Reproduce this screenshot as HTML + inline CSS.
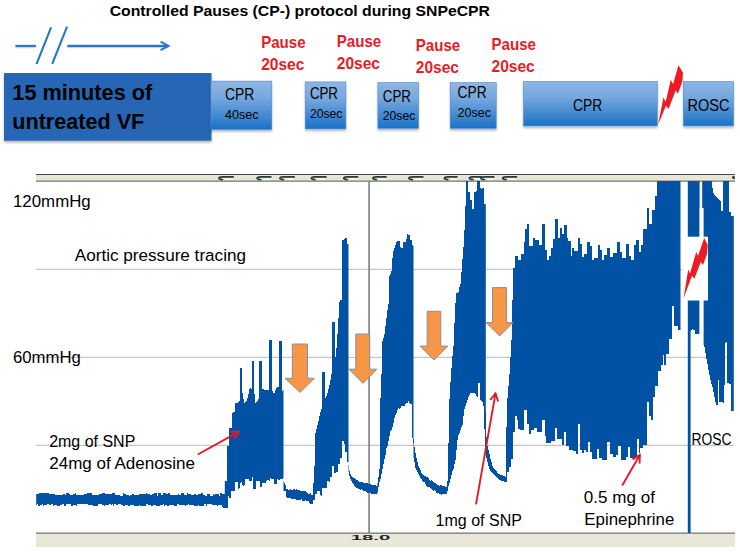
<!DOCTYPE html>
<html><head><meta charset="utf-8"><title>Controlled Pauses protocol</title>
<style>html,body{margin:0;padding:0;background:#fff}svg{display:block}</style></head>
<body>
<svg width="740" height="552" viewBox="0 0 740 552" font-family="'Liberation Sans', sans-serif">
<defs>
<linearGradient id="g" x1="0" y1="0" x2="0" y2="1"><stop offset="0" stop-color="#8fb6e4"/><stop offset="0.35" stop-color="#76a7de"/><stop offset="1" stop-color="#1a72c7"/></linearGradient>
<filter id="sh" x="-10%" y="-10%" width="120%" height="140%"><feGaussianBlur in="SourceAlpha" stdDeviation="1.2"/><feOffset dx="0" dy="2"/><feComponentTransfer><feFuncA type="linear" slope="0.28"/></feComponentTransfer><feMerge><feMergeNode/><feMergeNode in="SourceGraphic"/></feMerge></filter>
</defs>
<rect width="740" height="552" fill="#fff"/>
<rect x="36" y="174" width="699" height="7.5" fill="#e6e6d4"/><rect x="36" y="174" width="699" height="1" fill="#4a4a48"/><rect x="36" y="180.5" width="699" height="1.3" fill="#7d7f80"/>
<rect x="36" y="533" width="699" height="14" fill="#e9e7d8"/><rect x="36" y="532.6" width="699" height="1" fill="#555"/>
<rect x="36" y="268.8" width="698" height="1" fill="#b9b9b9"/>
<rect x="36" y="356.8" width="698" height="1" fill="#b9b9b9"/>
<rect x="36" y="444.8" width="698" height="1" fill="#b9b9b9"/>
<ellipse cx="229.0" cy="179.2" rx="4.0" ry="0.9" fill="#f7f7f3"/><path d="M233.2 176.9 H222.5 q-3.4 0 -3.6 1.3 q0.3 1.1 3.4 1.4" fill="none" stroke="#2b3a38" stroke-width="1.7" stroke-linecap="round"/>
<ellipse cx="266.9" cy="179.2" rx="3.9" ry="0.9" fill="#f7f7f3"/><path d="M270.8 176.9 H260.7 q-3.4 0 -3.6 1.3 q0.3 1.1 3.4 1.4" fill="none" stroke="#2b3a38" stroke-width="1.7" stroke-linecap="round"/>
<ellipse cx="290.0" cy="179.2" rx="4.0" ry="0.9" fill="#f7f7f3"/><path d="M294.2 176.9 H283.5 q-3.4 0 -3.6 1.3 q0.3 1.1 3.4 1.4" fill="none" stroke="#2b3a38" stroke-width="1.7" stroke-linecap="round"/>
<ellipse cx="321.6" cy="179.2" rx="4.0" ry="0.9" fill="#f7f7f3"/><path d="M325.9 176.9 H315.0 q-3.4 0 -3.6 1.3 q0.3 1.1 3.4 1.4" fill="none" stroke="#2b3a38" stroke-width="1.7" stroke-linecap="round"/>
<ellipse cx="353.6" cy="179.2" rx="3.9" ry="0.9" fill="#f7f7f3"/><path d="M357.6 176.9 H347.3 q-3.4 0 -3.6 1.3 q0.3 1.1 3.4 1.4" fill="none" stroke="#2b3a38" stroke-width="1.7" stroke-linecap="round"/>
<ellipse cx="382.4" cy="179.2" rx="3.7" ry="0.9" fill="#f7f7f3"/><path d="M386.0 176.9 H376.5 q-3.4 0 -3.6 1.3 q0.3 1.1 3.4 1.4" fill="none" stroke="#2b3a38" stroke-width="1.7" stroke-linecap="round"/>
<ellipse cx="418.8" cy="179.2" rx="3.9" ry="0.9" fill="#f7f7f3"/><path d="M422.8 176.9 H412.5 q-3.4 0 -3.6 1.3 q0.3 1.1 3.4 1.4" fill="none" stroke="#2b3a38" stroke-width="1.7" stroke-linecap="round"/>
<ellipse cx="453.6" cy="179.2" rx="3.5" ry="0.9" fill="#f7f7f3"/><path d="M456.9 176.9 H448.0 q-3.4 0 -3.6 1.3 q0.3 1.1 3.4 1.4" fill="none" stroke="#2b3a38" stroke-width="1.7" stroke-linecap="round"/>
<ellipse cx="478.2" cy="179.2" rx="3.4" ry="0.9" fill="#f7f7f3"/><path d="M481.2 176.9 H473.0 q-3.4 0 -3.6 1.3 q0.3 1.1 3.4 1.4" fill="none" stroke="#2b3a38" stroke-width="1.7" stroke-linecap="round"/>
<ellipse cx="490.3" cy="179.2" rx="3.7" ry="0.9" fill="#f7f7f3"/><path d="M493.8 176.9 H484.5 q-3.4 0 -3.6 1.3 q0.3 1.1 3.4 1.4" fill="none" stroke="#2b3a38" stroke-width="1.7" stroke-linecap="round"/>
<ellipse cx="512.5" cy="179.2" rx="3.9" ry="0.9" fill="#f7f7f3"/><path d="M516.5 176.9 H506.2 q-3.4 0 -3.6 1.3 q0.3 1.1 3.4 1.4" fill="none" stroke="#2b3a38" stroke-width="1.7" stroke-linecap="round"/>
<rect x="732.3" y="176.2" width="2.4" height="2.6" fill="#222"/>
<rect x="368.2" y="181.5" width="1.8" height="352" fill="#868c94"/>
<path d="M36.2 505.0V494.0H37.0V494.0H38.0V494.0H39.0V493.0H40.0V493.0H41.0V493.0H42.0V493.0H43.0V493.0H44.0V493.0H45.0V493.0H46.0V493.0H47.0V493.0H48.0V493.0H49.0V494.0H50.0V494.0H51.0V494.0H52.0V494.0H53.0V494.0H54.0V494.0H55.0V495.0H56.0V495.0H57.0V495.0H58.0V495.0H59.0V495.0H60.0V495.0H61.0V495.0H62.0V495.0H63.0V494.0H64.0V494.0H65.0V495.0H66.0V493.0H67.0V493.0H68.0V493.0H69.0V494.0H70.0V495.0H71.0V495.0H72.0V495.0H73.0V494.0H74.0V494.0H75.0V493.0H76.0V495.0H77.0V495.0H78.0V495.0H79.0V495.0H80.0V495.0H81.0V495.0H82.0V495.0H83.0V495.0H84.0V494.0H85.0V494.0H86.0V494.0H87.0V493.0H88.0V493.0H89.0V493.0H90.0V493.0H91.0V493.0H92.0V495.0H93.0V495.0H94.0V495.0H95.0V495.0H96.0V495.0H97.0V495.0H98.0V495.0H99.0V494.0H100.0V494.0H101.0V494.0H102.0V493.0H103.0V493.0H104.0V493.0H105.0V494.0H106.0V494.0H107.0V494.0H108.0V494.0H109.0V494.0H110.0V494.0H111.0V494.0H112.0V493.0H113.0V493.0H114.0V493.0H115.0V495.0H116.0V495.0H117.0V495.0H118.0V495.0H119.0V495.0H120.0V496.0H121.0V496.0H122.0V496.0H123.0V493.0H124.0V494.0H125.0V494.0H126.0V495.0H127.0V495.0H128.0V495.0H129.0V496.0H130.0V495.0H131.0V495.0H132.0V494.0H133.0V494.0H134.0V495.0H135.0V495.0H136.0V495.0H137.0V495.0H138.0V495.0H139.0V494.0H140.0V494.0H141.0V494.0H142.0V494.0H143.0V494.0H144.0V494.0H145.0V494.0H146.0V493.0H147.0V494.0H148.0V494.0H149.0V494.0H150.0V495.0H151.0V495.0H152.0V494.0H153.0V494.0H154.0V493.0H155.0V493.0H156.0V493.0H157.0V496.0H158.0V493.0H159.0V493.0H160.0V493.0H161.0V495.0H162.0V495.0H163.0V493.0H164.0V493.0H165.0V493.0H166.0V494.0H167.0V494.0H168.0V493.0H169.0V493.0H170.0V495.0H171.0V495.0H172.0V495.0H173.0V495.0H174.0V495.0H175.0V495.0H176.0V495.0H177.0V495.0H178.0V494.0H179.0V495.0H180.0V495.0H181.0V493.0H182.0V493.0H183.0V493.0H184.0V495.0H185.0V495.0H186.0V495.0H187.0V493.0H188.0V494.0H189.0V494.0H190.0V494.0H191.0V495.0H192.0V495.0H193.0V495.0H194.0V494.0H195.0V494.0H196.0V495.0H197.0V495.0H198.0V494.0H199.0V494.0H200.0V494.0H201.0V493.0H202.0V493.0H203.0V495.0H204.0V495.0H205.0V496.0H206.0V496.0H207.0V494.0H208.0V494.0H209.0V494.0H210.0V496.0H211.0V496.0H212.0V496.0H213.0V494.0H214.0V495.0H215.0V494.0H216.0V494.0H217.0V494.0H218.0V494.0H219.0V496.0H220.0V493.0H221.0V493.0H222.0V494.0H223.0V494.0H224.0V494.0H224.8V481.0H225.0V481.0H226.0V481.0H227.0V446.0H228.0V446.0H229.0V428.0H230.0V428.0H231.0V428.0H232.0V413.0H233.0V412.0H234.0V412.0H235.0V403.0H236.0V403.0H237.0V403.0H238.0V402.0H239.0V401.0H240.0V368.0H241.0V368.0H242.0V393.0H243.0V399.0H244.0V403.0H245.0V402.0H246.0V401.0H247.0V398.0H248.0V394.0H249.0V389.0H250.0V388.0H251.0V389.0H252.0V361.0H253.0V361.0H254.0V394.0H255.0V403.0H256.0V402.0H257.0V401.0H258.0V399.0H259.0V361.0H260.0V361.0H261.0V361.0H262.0V389.0H263.0V389.0H264.0V390.0H265.0V390.0H266.0V390.0H267.0V390.0H268.0V390.0H269.0V340.0H270.0V340.0H271.0V340.0H272.0V391.0H273.0V393.0H274.0V393.0H275.0V390.0H276.0V388.0H277.0V387.0H278.0V387.0H279.0V341.0H280.0V341.0H281.0V341.0H282.0V391.0H283.0V390.0H283.5V481.0H284.0V483.0H285.0V485.0H286.0V489.0H287.0V489.0H288.0V490.0H289.0V490.0H290.0V489.0H291.0V490.0H292.0V490.0H293.0V489.0H294.0V489.0H295.0V490.0H296.0V489.0H297.0V490.0H298.0V490.0H299.0V490.0H300.0V491.0H301.0V491.0H302.0V491.0H303.0V491.0H304.0V491.0H305.0V491.0H306.0V492.0H307.0V493.0H308.0V494.0H309.0V494.0H310.0V493.0H311.0V495.0H312.0V495.0H313.0V483.0H314.0V466.0H315.0V433.0H316.0V429.0H317.0V425.0H318.0V421.0H319.0V416.0H320.0V412.0H321.0V409.0H322.0V372.0H323.0V372.0H324.0V372.0H325.0V398.0H326.0V396.0H327.0V393.0H328.0V389.0H329.0V385.0H330.0V380.0H331.0V374.0H332.0V322.0H333.0V322.0H334.0V322.0H335.0V357.0H336.0V348.0H337.0V334.0H338.0V318.0H339.0V302.0H340.0V300.0H341.0V300.0H342.0V240.0H343.0V240.0H344.0V239.0H345.0V238.0H346.0V238.0H347.0V244.0H348.0V244.0H348.5V465.0H349.0V471.0H350.0V474.0H351.0V476.0H352.0V477.0H353.0V478.0H354.0V478.0H355.0V479.0H356.0V480.0H357.0V480.0H358.0V481.0H359.0V482.0H360.0V482.0H361.0V482.0H362.0V482.0H363.0V483.0H364.0V483.0H365.0V483.0H366.0V483.0H367.0V483.0H368.0V484.0H369.0V484.0H370.0V484.0H371.0V485.0H372.0V485.0H373.0V485.0H374.0V485.0H375.0V485.0H376.0V486.0H377.0V486.0H377.4V483.0H378.0V477.0H379.0V469.0H380.0V398.0H381.0V374.0H382.0V341.0H383.0V338.0H384.0V334.0H385.0V326.0H386.0V318.0H387.0V310.0H388.0V304.0H389.0V276.0H390.0V274.0H391.0V271.0H392.0V258.0H393.0V251.0H394.0V248.0H395.0V245.0H396.0V242.0H397.0V241.0H398.0V241.0H399.0V241.0H400.0V247.0H401.0V248.0H402.0V248.0H403.0V242.0H404.0V242.0H405.0V242.0H406.0V239.0H407.0V234.0H408.0V235.0H409.0V235.0H410.0V240.0H411.0V240.0H412.0V245.0H413.0V246.0H413.5V439.0H414.0V447.0H415.0V453.0H416.0V458.0H417.0V462.0H418.0V466.0H419.0V468.0H420.0V470.0H421.0V473.0H422.0V474.0H423.0V475.0H424.0V476.0H425.0V476.0H426.0V477.0H427.0V477.0H428.0V478.0H429.0V480.0H430.0V481.0H431.0V480.0H432.0V481.0H433.0V482.0H434.0V483.0H435.0V483.0H436.0V484.0H437.0V485.0H438.0V485.0H439.0V486.0H440.0V485.0H441.0V485.0H442.0V486.0H443.0V486.0H444.0V486.0H445.0V487.0H446.0V487.0H446.8V485.0H447.0V481.0H448.0V443.0H449.0V399.0H450.0V382.0H451.0V368.0H452.0V356.0H453.0V346.0H454.0V323.0H455.0V303.0H456.0V293.0H457.0V293.0H458.0V292.0H459.0V287.0H460.0V284.0H461.0V272.0H462.0V259.0H463.0V247.0H464.0V230.0H465.0V206.0H466.0V181.0H467.0V181.0H468.0V192.0H469.0V192.0H470.0V200.0H471.0V200.0H472.0V209.0H473.0V209.0H474.0V192.0H475.0V192.0H476.0V191.0H477.0V181.0H478.0V181.0H479.0V181.0H480.0V188.0H481.0V189.0H482.0V188.0H483.0V188.0H484.0V204.0H485.0V204.0H485.8V412.0H486.0V437.0H487.0V446.0H488.0V450.0H489.0V454.0H490.0V459.0H491.0V462.0H492.0V466.0H493.0V468.0H494.0V469.0H495.0V470.0H496.0V471.0H497.0V473.0H498.0V474.0H499.0V474.0H500.0V475.0H501.0V475.0H502.0V475.0H503.0V476.0H504.0V476.0H505.0V477.0H506.0V427.0H507.0V398.0H508.0V386.0H509.0V374.0H510.0V357.0H511.0V340.0H512.0V300.0H513.0V268.0H514.0V268.0H515.0V256.0H516.0V256.0H517.0V256.0H518.0V260.0H519.0V260.0H520.0V260.0H521.0V254.0H522.0V254.0H523.0V254.0H524.0V242.0H525.0V229.0H526.0V229.0H527.0V224.0H528.0V224.0H529.0V246.0H530.0V246.0H531.0V246.0H532.0V246.0H533.0V238.0H534.0V238.0H535.0V240.0H536.0V240.0H537.0V240.0H538.0V240.0H539.0V245.0H540.0V245.0H541.0V245.0H542.0V224.0H543.0V224.0H544.0V224.0H545.0V250.0H546.0V250.0H547.0V260.0H548.0V260.0H549.0V256.0H550.0V256.0H551.0V248.0H552.0V248.0H553.0V239.0H554.0V239.0H555.0V219.0H556.0V219.0H557.0V219.0H558.0V238.0H559.0V238.0H560.0V228.0H561.0V228.0H562.0V234.0H563.0V234.0H564.0V225.0H565.0V225.0H566.0V225.0H567.0V238.0H568.0V241.0H569.0V241.0H570.0V241.0H571.0V256.0H572.0V248.0H573.0V248.0H574.0V251.0H575.0V251.0H576.0V251.0H577.0V251.0H578.0V238.0H579.0V238.0H580.0V244.0H581.0V244.0H582.0V257.0H583.0V257.0H584.0V254.0H585.0V254.0H586.0V254.0H587.0V242.0H588.0V242.0H589.0V242.0H590.0V246.0H591.0V246.0H592.0V260.0H593.0V260.0H594.0V258.0H595.0V258.0H596.0V258.0H597.0V258.0H598.0V245.0H599.0V245.0H600.0V250.0H601.0V250.0H602.0V260.0H603.0V260.0H604.0V255.0H605.0V255.0H606.0V255.0H607.0V248.0H608.0V248.0H609.0V248.0H610.0V257.0H611.0V257.0H612.0V257.0H613.0V253.0H614.0V253.0H615.0V253.0H616.0V253.0H617.0V242.0H618.0V242.0H619.0V242.0H620.0V252.0H621.0V252.0H622.0V258.0H623.0V258.0H624.0V258.0H625.0V258.0H626.0V244.0H627.0V244.0H628.0V244.0H629.0V256.0H630.0V256.0H631.0V260.0H632.0V260.0H633.0V260.0H634.0V245.0H635.0V245.0H636.0V240.0H637.0V240.0H638.0V240.0H639.0V252.0H640.0V252.0H641.0V245.0H642.0V245.0H643.0V229.0H644.0V229.0H645.0V229.0H646.0V229.0H647.0V208.0H648.0V208.0H649.0V224.0H650.0V224.0H651.0V224.0H652.0V210.0H653.0V210.0H654.0V210.0H655.0V196.0H656.0V196.0H657.0V181.0H658.0V181.0H659.0V181.0H660.0V181.0H661.0V181.0H662.0V181.0H663.0V181.0H664.0V181.0H665.0V181.0H666.0V181.0H667.0V181.0H668.0V181.0H669.0V181.0H670.0V181.0H671.0V181.0H672.0V181.0H673.0V181.0H674.0V181.0H675.0V181.0H676.0V181.0H677.0V181.0H678.0V181.0H679.0V181.0H680.0V181.0H680.5V330.0H680.0V330.0H679.0V330.0H678.0V326.0H677.0V326.0H676.0V326.0H675.0V326.0H674.0V306.0H673.0V306.0H672.0V339.0H671.0V339.0H670.0V339.0H669.0V354.0H668.0V354.0H667.0V354.0H666.0V365.0H665.0V365.0H664.0V355.0H663.0V365.0H662.0V365.0H661.0V371.0H660.0V371.0H659.0V371.0H658.0V386.0H657.0V386.0H656.0V386.0H655.0V397.0H654.0V397.0H653.0V420.0H652.0V420.0H651.0V416.0H650.0V416.0H649.0V402.0H648.0V402.0H647.0V445.0H646.0V445.0H645.0V445.0H644.0V445.0H643.0V448.0H642.0V448.0H641.0V448.0H640.0V453.0H639.0V439.0H638.0V439.0H637.0V458.0H636.0V458.0H635.0V458.0H634.0V458.0H633.0V458.0H632.0V458.0H631.0V458.0H630.0V447.0H629.0V447.0H628.0V457.0H627.0V457.0H626.0V460.0H625.0V460.0H624.0V460.0H623.0V460.0H622.0V460.0H621.0V446.0H620.0V446.0H619.0V446.0H618.0V455.0H617.0V455.0H616.0V457.0H615.0V457.0H614.0V457.0H613.0V454.0H612.0V454.0H611.0V454.0H610.0V442.0H609.0V442.0H608.0V442.0H607.0V460.0H606.0V460.0H605.0V460.0H604.0V460.0H603.0V460.0H602.0V458.0H601.0V458.0H600.0V458.0H599.0V449.0H598.0V449.0H597.0V459.0H596.0V459.0H595.0V459.0H594.0V459.0H593.0V459.0H592.0V452.0H591.0V452.0H590.0V442.0H589.0V442.0H588.0V452.0H587.0V452.0H586.0V450.0H585.0V450.0H584.0V453.0H583.0V453.0H582.0V450.0H581.0V450.0H580.0V424.0H579.0V424.0H578.0V454.0H577.0V454.0H576.0V451.0H575.0V451.0H574.0V451.0H573.0V450.0H572.0V450.0H571.0V450.0H570.0V450.0H569.0V446.0H568.0V446.0H567.0V446.0H566.0V432.0H565.0V432.0H564.0V445.0H563.0V445.0H562.0V439.0H561.0V439.0H560.0V439.0H559.0V439.0H558.0V439.0H557.0V428.0H556.0V428.0H555.0V441.0H554.0V441.0H553.0V441.0H552.0V441.0H551.0V443.0H550.0V443.0H549.0V443.0H548.0V443.0H547.0V443.0H546.0V436.0H545.0V420.0H544.0V420.0H543.0V420.0H542.0V432.0H541.0V432.0H540.0V432.0H539.0V432.0H538.0V432.0H537.0V428.0H536.0V428.0H535.0V428.0H534.0V430.0H533.0V430.0H532.0V430.0H531.0V434.0H530.0V434.0H529.0V424.0H528.0V424.0H527.0V410.0H526.0V410.0H525.0V410.0H524.0V430.0H523.0V430.0H522.0V430.0H521.0V430.0H520.0V429.0H519.0V429.0H518.0V420.0H517.0V416.0H516.0V416.0H515.0V432.0H514.0V432.0H513.0V459.0H512.0V459.0H511.0V467.0H510.0V467.0H509.0V472.0H508.0V472.0H507.0V482.0H506.0V482.0H505.0V482.0H504.0V481.0H503.0V481.0H502.0V481.0H501.0V480.0H500.0V480.0H499.0V479.0H498.0V478.0H497.0V477.0H496.0V476.0H495.0V475.0H494.0V474.0H493.0V473.0H492.0V472.0H491.0V471.0H490.0V469.0H489.0V466.0H488.0V462.0H487.0V458.0H486.0V456.0H485.8V448.0H485.0V429.0H484.0V406.0H483.0V402.0H482.0V401.0H481.0V400.0H480.0V383.0H479.0V383.0H478.0V397.0H477.0V396.0H476.0V394.0H475.0V393.0H474.0V393.0H473.0V393.0H472.0V393.0H471.0V393.0H470.0V395.0H469.0V397.0H468.0V400.0H467.0V403.0H466.0V406.0H465.0V409.0H464.0V416.0H463.0V425.0H462.0V427.0H461.0V430.0H460.0V433.0H459.0V435.0H458.0V440.0H457.0V450.0H456.0V460.0H455.0V464.0H454.0V469.0H453.0V471.0H452.0V475.0H451.0V479.0H450.0V483.0H449.0V486.0H448.0V491.0H447.0V493.0H446.8V494.0H446.0V494.0H445.0V494.0H444.0V494.0H443.0V494.0H442.0V495.0H441.0V494.0H440.0V494.0H439.0V493.0H438.0V493.0H437.0V493.0H436.0V491.0H435.0V490.0H434.0V491.0H433.0V490.0H432.0V489.0H431.0V488.0H430.0V487.0H429.0V487.0H428.0V487.0H427.0V486.0H426.0V484.0H425.0V482.0H424.0V482.0H423.0V481.0H422.0V479.0H421.0V478.0H420.0V476.0H419.0V474.0H418.0V472.0H417.0V470.0H416.0V468.0H415.0V462.0H414.0V458.0H413.5V443.0H413.0V438.0H412.0V404.0H411.0V404.0H410.0V403.0H409.0V401.0H408.0V403.0H407.0V403.0H406.0V404.0H405.0V406.0H404.0V406.0H403.0V406.0H402.0V406.0H401.0V408.0H400.0V409.0H399.0V408.0H398.0V410.0H397.0V413.0H396.0V415.0H395.0V418.0H394.0V423.0H393.0V427.0H392.0V430.0H391.0V431.0H390.0V436.0H389.0V441.0H388.0V446.0H387.0V448.0H386.0V455.0H385.0V459.0H384.0V464.0H383.0V469.0H382.0V474.0H381.0V479.0H380.0V482.0H379.0V487.0H378.0V492.0H377.4V494.0H377.0V494.0H376.0V494.0H375.0V494.0H374.0V494.0H373.0V494.0H372.0V494.0H371.0V493.0H370.0V492.0H369.0V493.0H368.0V493.0H367.0V492.0H366.0V491.0H365.0V491.0H364.0V491.0H363.0V490.0H362.0V489.0H361.0V490.0H360.0V489.0H359.0V489.0H358.0V488.0H357.0V488.0H356.0V487.0H355.0V486.0H354.0V484.0H353.0V483.0H352.0V481.0H351.0V479.0H350.0V476.0H349.0V472.0H348.5V462.0H348.0V462.0H347.0V452.0H346.0V452.0H345.0V444.0H344.0V441.0H343.0V441.0H342.0V458.0H341.0V458.0H340.0V464.0H339.0V464.0H338.0V472.0H337.0V472.0H336.0V473.0H335.0V473.0H334.0V466.0H333.0V466.0H332.0V477.0H331.0V477.0H330.0V482.0H329.0V481.0H328.0V481.0H327.0V488.0H326.0V488.0H325.0V488.0H324.0V488.0H323.0V488.0H322.0V496.0H321.0V495.0H320.0V491.0H319.0V491.0H318.0V491.0H317.0V494.0H316.0V494.0H315.0V500.0H314.0V500.0H313.0V504.0H312.0V504.0H311.0V504.0H310.0V503.0H309.0V501.0H308.0V501.0H307.0V501.0H306.0V500.0H305.0V501.0H304.0V501.0H303.0V501.0H302.0V499.0H301.0V500.0H300.0V500.0H299.0V500.0H298.0V500.0H297.0V500.0H296.0V499.0H295.0V499.0H294.0V499.0H293.0V499.0H292.0V499.0H291.0V498.0H290.0V498.0H289.0V498.0H288.0V498.0H287.0V497.0H286.0V491.0H285.0V491.0H284.0V491.0H283.5V478.0H283.0V479.0H282.0V479.0H281.0V479.0H280.0V480.0H279.0V480.0H278.0V479.0H277.0V484.0H276.0V484.0H275.0V484.0H274.0V479.0H273.0V479.0H272.0V479.0H271.0V478.0H270.0V481.0H269.0V480.0H268.0V480.0H267.0V481.0H266.0V483.0H265.0V483.0H264.0V483.0H263.0V483.0H262.0V487.0H261.0V487.0H260.0V481.0H259.0V481.0H258.0V481.0H257.0V481.0H256.0V489.0H255.0V489.0H254.0V489.0H253.0V477.0H252.0V481.0H251.0V481.0H250.0V481.0H249.0V479.0H248.0V479.0H247.0V479.0H246.0V479.0H245.0V485.0H244.0V486.0H243.0V485.0H242.0V482.0H241.0V483.0H240.0V488.0H239.0V489.0H238.0V482.0H237.0V482.0H236.0V482.0H235.0V491.0H234.0V491.0H233.0V491.0H232.0V491.0H231.0V498.0H230.0V498.0H229.0V496.0H228.0V508.0H227.0V508.0H226.0V508.0H225.0V508.0H224.8V508.0H224.0V508.0H223.0V507.0H222.0V505.0H221.0V505.0H220.0V505.0H219.0V505.0H218.0V506.0H217.0V505.0H216.0V505.0H215.0V505.0H214.0V505.0H213.0V505.0H212.0V504.0H211.0V504.0H210.0V504.0H209.0V504.0H208.0V504.0H207.0V506.0H206.0V504.0H205.0V504.0H204.0V506.0H203.0V506.0H202.0V506.0H201.0V506.0H200.0V506.0H199.0V505.0H198.0V506.0H197.0V506.0H196.0V506.0H195.0V506.0H194.0V505.0H193.0V505.0H192.0V505.0H191.0V505.0H190.0V505.0H189.0V504.0H188.0V505.0H187.0V505.0H186.0V506.0H185.0V505.0H184.0V505.0H183.0V505.0H182.0V505.0H181.0V505.0H180.0V505.0H179.0V504.0H178.0V504.0H177.0V506.0H176.0V506.0H175.0V506.0H174.0V505.0H173.0V505.0H172.0V505.0H171.0V505.0H170.0V505.0H169.0V506.0H168.0V506.0H167.0V505.0H166.0V505.0H165.0V506.0H164.0V504.0H163.0V505.0H162.0V505.0H161.0V505.0H160.0V506.0H159.0V506.0H158.0V506.0H157.0V506.0H156.0V505.0H155.0V505.0H154.0V505.0H153.0V506.0H152.0V506.0H151.0V505.0H150.0V505.0H149.0V505.0H148.0V504.0H147.0V504.0H146.0V506.0H145.0V506.0H144.0V506.0H143.0V506.0H142.0V506.0H141.0V506.0H140.0V505.0H139.0V506.0H138.0V506.0H137.0V506.0H136.0V506.0H135.0V506.0H134.0V505.0H133.0V505.0H132.0V505.0H131.0V505.0H130.0V506.0H129.0V506.0H128.0V505.0H127.0V505.0H126.0V505.0H125.0V506.0H124.0V506.0H123.0V505.0H122.0V505.0H121.0V504.0H120.0V504.0H119.0V504.0H118.0V505.0H117.0V505.0H116.0V504.0H115.0V504.0H114.0V506.0H113.0V504.0H112.0V505.0H111.0V504.0H110.0V504.0H109.0V505.0H108.0V505.0H107.0V505.0H106.0V505.0H105.0V506.0H104.0V505.0H103.0V505.0H102.0V504.0H101.0V504.0H100.0V504.0H99.0V504.0H98.0V506.0H97.0V506.0H96.0V506.0H95.0V506.0H94.0V506.0H93.0V505.0H92.0V505.0H91.0V505.0H90.0V505.0H89.0V505.0H88.0V504.0H87.0V504.0H86.0V504.0H85.0V504.0H84.0V504.0H83.0V504.0H82.0V504.0H81.0V504.0H80.0V504.0H79.0V504.0H78.0V504.0H77.0V506.0H76.0V505.0H75.0V505.0H74.0V505.0H73.0V506.0H72.0V506.0H71.0V504.0H70.0V504.0H69.0V504.0H68.0V504.0H67.0V504.0H66.0V506.0H65.0V506.0H64.0V504.0H63.0V504.0H62.0V505.0H61.0V505.0H60.0V506.0H59.0V506.0H58.0V506.0H57.0V505.0H56.0V505.0H55.0V505.0H54.0V506.0H53.0V504.0H52.0V504.0H51.0V505.0H50.0V505.0H49.0V504.0H48.0V504.0H47.0V505.0H46.0V505.0H45.0V505.0H44.0V506.0H43.0V504.0H42.0V505.0H41.0V505.0H40.0V506.0H39.0V506.0H38.0V504.0H37.0V505.0H36.2ZM688.0 330.0V181.0H689.0V181.0H690.0V181.0H691.0V181.0H692.0V181.0H693.0V181.0H694.0V181.0H695.0V181.0H696.0V181.0H697.0V181.0H698.0V181.0H699.0V181.0H699.6V334.0H699.0V334.0H698.0V334.0H697.0V334.0H696.0V334.0H695.0V330.0H694.0V330.0H693.0V329.0H692.0V330.0H691.0V331.0H690.0V332.0H689.0V330.0H688.0ZM702.2 313.0V181.0H703.0V181.0H704.0V181.0H705.0V181.0H706.0V181.0H707.0V181.0H708.0V181.0H709.0V181.0H710.0V181.0H711.0V181.0H712.0V188.0H713.0V193.0H714.0V195.0H715.0V196.0H716.0V197.0H717.0V198.0H718.0V199.0H719.0V200.0H720.0V201.0H721.0V211.0H722.0V211.0H723.0V181.0H724.0V181.0H725.0V181.0H726.0V181.0H727.0V181.0H728.0V181.0H729.0V212.0H730.0V212.0H731.0V216.0H732.0V216.0H733.0V216.0H733.8V411.0H733.0V411.0H732.0V411.0H731.0V384.0H730.0V384.0H729.0V383.0H728.0V383.0H727.0V342.0H726.0V343.0H725.0V385.0H724.0V403.0H723.0V402.0H722.0V402.0H721.0V402.0H720.0V402.0H719.0V380.0H718.0V405.0H717.0V405.0H716.0V402.0H715.0V397.0H714.0V392.0H713.0V387.0H712.0V384.0H711.0V380.0H710.0V375.0H709.0V370.0H708.0V364.0H707.0V359.0H706.0V353.0H705.0V347.0H704.0V345.0H703.0V313.0H702.2Z" fill="#0152a5"/>
<rect x="687.8" y="181.5" width="2.8" height="351.5" fill="#0152a5"/>
<rect x="699.6" y="208" width="4" height="140" fill="#fff"/>
<rect x="682.6" y="236.7" width="25.4" height="63.8" fill="#fff"/>
<polygon points="704.2,238.0 707.7,245.0 706.9,254.2 703.0,265.0 700.8,262.0 694.3,278.8 692.0,275.8 683.5,298.5 688.2,269.6 690.0,273.5 696.2,252.0 698.0,255.8" fill="#ed1c24"/>
<polygon points="292.3,344.0 307.5,344.0 307.5,378.3 314.4,378.3 300.0,392.4 285.0,378.3 292.3,378.3" fill="#f79646" stroke="#8b8f9c" stroke-width="1" stroke-linejoin="miter"/>
<polygon points="355.8,334.0 369.7,334.0 369.7,369.2 377.0,369.2 363.0,383.4 348.9,369.2 355.8,369.2" fill="#f79646" stroke="#8b8f9c" stroke-width="1" stroke-linejoin="miter"/>
<polygon points="427.2,311.3 440.8,311.3 440.8,346.1 448.0,346.1 434.0,360.0 420.0,346.1 427.2,346.1" fill="#f79646" stroke="#8b8f9c" stroke-width="1" stroke-linejoin="miter"/>
<polygon points="492.5,287.6 506.6,287.6 506.6,322.6 513.0,322.6 499.7,336.0 486.0,322.6 492.5,322.6" fill="#f79646" stroke="#8b8f9c" stroke-width="1" stroke-linejoin="miter"/>
<g stroke="#e01b26" stroke-width="1.9" fill="none" stroke-linecap="butt" stroke-linejoin="miter"><line x1="197.8" y1="454.5" x2="239.0" y2="431.6"/><polyline points="234.5,438.8 239.0,431.6 230.5,431.7"/></g>
<g stroke="#e01b26" stroke-width="1.9" fill="none" stroke-linecap="butt" stroke-linejoin="miter"><line x1="476.0" y1="504.4" x2="495.5" y2="393.4"/><polyline points="498.2,401.5 495.5,393.4 490.2,400.0"/></g>
<g stroke="#e01b26" stroke-width="1.9" fill="none" stroke-linecap="butt" stroke-linejoin="miter"><line x1="622.2" y1="485.5" x2="639.8" y2="455.0"/><polyline points="639.6,463.5 639.8,455.0 632.5,459.4"/></g>
<g stroke="#b8b8b8" stroke-width="2" fill="none" opacity="0.6" transform="translate(0,1.4)"><line x1="15.4" y1="45.9" x2="35.9" y2="45.9"/><line x1="67.3" y1="45.9" x2="168" y2="45.9"/></g><g stroke="#2a76c4" stroke-width="2.1" fill="none"><line x1="15.4" y1="45.9" x2="35.9" y2="45.9"/><line x1="51.1" y1="27.4" x2="36.5" y2="64.1"/><line x1="67.1" y1="26.7" x2="52.2" y2="63.8"/><line x1="67.3" y1="45.9" x2="168" y2="45.9"/><polyline points="160.6,41.7 168.4,45.9 160.6,50.1" stroke-linejoin="miter"/></g>
<rect x="4" y="73" width="207.5" height="67.7" fill="#2566b4" filter="url(#sh)"/>
<rect x="210.9" y="81.1" width="60.9" height="48.3" fill="url(#g)" stroke="#4a8ad0" stroke-width="0.6" filter="url(#sh)"/>
<rect x="305.2" y="81.9" width="40.7" height="47.0" fill="url(#g)" stroke="#4a8ad0" stroke-width="0.6" filter="url(#sh)"/>
<rect x="377.9" y="82.6" width="40.6" height="45.7" fill="url(#g)" stroke="#4a8ad0" stroke-width="0.6" filter="url(#sh)"/>
<rect x="450.2" y="82.6" width="46.0" height="45.7" fill="url(#g)" stroke="#4a8ad0" stroke-width="0.6" filter="url(#sh)"/>
<rect x="523.5" y="81.4" width="133.8" height="44.5" fill="url(#g)" stroke="#4a8ad0" stroke-width="0.6" filter="url(#sh)"/>
<rect x="683.3" y="81.4" width="50.2" height="44.5" fill="url(#g)" stroke="#4a8ad0" stroke-width="0.6" filter="url(#sh)"/>
<polygon points="678.4,65.3 682.9,72.4 682.5,81.0 678.0,93.7 675.7,90.6 668.5,108.9 666.0,105.7 658.1,124.4 663.4,97.5 665.7,101.8 670.8,79.7 673.1,84.0" fill="#ed1c24"/>
<text x="109.7" y="15.7" font-size="14.90" font-weight="bold" fill="#000" textLength="380.3" lengthAdjust="spacingAndGlyphs">Controlled Pauses (CP-) protocol during SNPeCPR</text>
<text x="12.3" y="99.5" font-size="22.30" font-weight="bold" fill="#000" textLength="140.0" lengthAdjust="spacingAndGlyphs">15 minutes of</text>
<text x="12.3" y="129.4" font-size="22.30" font-weight="bold" fill="#000" textLength="132.0" lengthAdjust="spacingAndGlyphs">untreated VF</text>
<text x="261.2" y="48.3" font-size="16.40" font-weight="bold" fill="#e81c26" textLength="44.4" lengthAdjust="spacingAndGlyphs">Pause</text>
<text x="261.2" y="70.3" font-size="16.40" font-weight="bold" fill="#e81c26" textLength="43.2" lengthAdjust="spacingAndGlyphs">20sec</text>
<text x="336.8" y="46.8" font-size="16.40" font-weight="bold" fill="#e81c26" textLength="44.4" lengthAdjust="spacingAndGlyphs">Pause</text>
<text x="336.8" y="69.2" font-size="16.40" font-weight="bold" fill="#e81c26" textLength="43.2" lengthAdjust="spacingAndGlyphs">20sec</text>
<text x="415.8" y="51.2" font-size="16.40" font-weight="bold" fill="#e81c26" textLength="44.4" lengthAdjust="spacingAndGlyphs">Pause</text>
<text x="415.8" y="73.3" font-size="16.40" font-weight="bold" fill="#e81c26" textLength="43.2" lengthAdjust="spacingAndGlyphs">20sec</text>
<text x="491.5" y="50.1" font-size="16.40" font-weight="bold" fill="#e81c26" textLength="44.4" lengthAdjust="spacingAndGlyphs">Pause</text>
<text x="491.5" y="72.0" font-size="16.40" font-weight="bold" fill="#e81c26" textLength="43.2" lengthAdjust="spacingAndGlyphs">20sec</text>
<text x="225.1" y="99.6" font-size="16.30" font-weight="normal" fill="#000" textLength="29.3" lengthAdjust="spacingAndGlyphs">CPR</text>
<text x="225.1" y="118.7" font-size="12.60" font-weight="normal" fill="#000" textLength="33.5" lengthAdjust="spacingAndGlyphs">40sec</text>
<text x="309.9" y="99.0" font-size="16.30" font-weight="normal" fill="#000" textLength="28.1" lengthAdjust="spacingAndGlyphs">CPR</text>
<text x="309.9" y="117.8" font-size="12.60" font-weight="normal" fill="#000" textLength="32.5" lengthAdjust="spacingAndGlyphs">20sec</text>
<text x="382.8" y="101.6" font-size="16.30" font-weight="normal" fill="#000" textLength="28.2" lengthAdjust="spacingAndGlyphs">CPR</text>
<text x="382.8" y="120.4" font-size="12.60" font-weight="normal" fill="#000" textLength="32.5" lengthAdjust="spacingAndGlyphs">20sec</text>
<text x="457.6" y="97.6" font-size="16.30" font-weight="normal" fill="#000" textLength="29.0" lengthAdjust="spacingAndGlyphs">CPR</text>
<text x="457.6" y="116.7" font-size="12.60" font-weight="normal" fill="#000" textLength="33.4" lengthAdjust="spacingAndGlyphs">20sec</text>
<text x="573.0" y="111.0" font-size="17.00" font-weight="normal" fill="#000" textLength="29.2" lengthAdjust="spacingAndGlyphs">CPR</text>
<text x="687.5" y="111.0" font-size="17.00" font-weight="normal" fill="#000" textLength="42.0" lengthAdjust="spacingAndGlyphs">ROSC</text>
<text x="13.0" y="206.5" font-size="16.30" font-weight="normal" fill="#000" textLength="77.7" lengthAdjust="spacingAndGlyphs">120mmHg</text>
<text x="74.8" y="260.6" font-size="16.30" font-weight="normal" fill="#000" textLength="171.2" lengthAdjust="spacingAndGlyphs">Aortic pressure tracing</text>
<text x="13.0" y="363.1" font-size="16.30" font-weight="normal" fill="#000" textLength="67.8" lengthAdjust="spacingAndGlyphs">60mmHg</text>
<text x="49.2" y="446.7" font-size="16.30" font-weight="normal" fill="#000" textLength="86.1" lengthAdjust="spacingAndGlyphs">2mg of SNP</text>
<text x="49.2" y="469.2" font-size="16.30" font-weight="normal" fill="#000" textLength="145.8" lengthAdjust="spacingAndGlyphs">24mg of Adenosine</text>
<text x="435.5" y="525.8" font-size="16.30" font-weight="normal" fill="#000" textLength="86.5" lengthAdjust="spacingAndGlyphs">1mg of SNP</text>
<text x="583.8" y="503.2" font-size="16.30" font-weight="normal" fill="#000" textLength="71.1" lengthAdjust="spacingAndGlyphs">0.5 mg of</text>
<text x="584.3" y="525.1" font-size="16.30" font-weight="normal" fill="#000" textLength="90.0" lengthAdjust="spacingAndGlyphs">Epinephrine</text>
<text x="691.4" y="445.0" font-size="16.30" font-weight="normal" fill="#000" textLength="40.2" lengthAdjust="spacingAndGlyphs">ROSC</text>
<text x="350.7" y="540.3" font-size="6.6" font-weight="bold" fill="#222" textLength="39.7" lengthAdjust="spacingAndGlyphs">18.0</text>
</svg>
</body></html>
